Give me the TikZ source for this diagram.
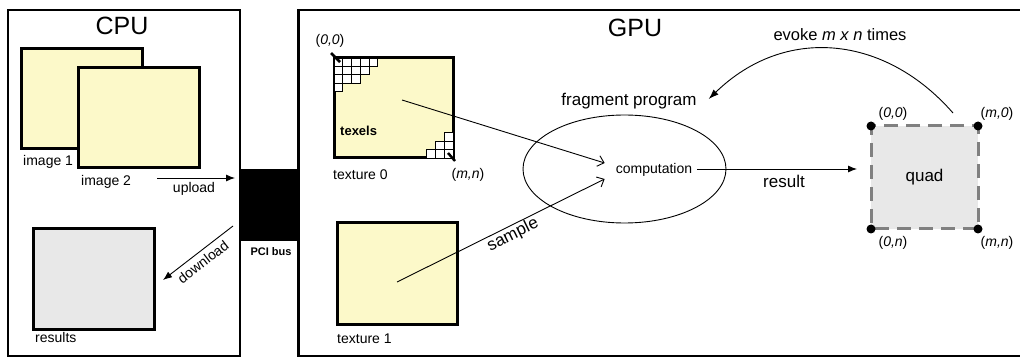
\documentclass[tikz,border=0pt]{standalone}
\usepackage{fontspec}
\setmainfont{Liberation Sans}
\usetikzlibrary{arrows.meta,shapes.geometric,calc}
\definecolor{paper}{RGB}{252,249,201}
\definecolor{quadfill}{RGB}{232,232,232}
\definecolor{dashgray}{RGB}{128,128,128}
\begin{document}
\begin{tikzpicture}[x=1pt,y=-1pt,
  panel/.style={draw, line width=2.5pt, inner sep=0pt, outer sep=0pt},
  imgbox/.style={draw, line width=3pt, fill=paper, inner sep=0pt, outer sep=0pt},
  resbox/.style={draw, line width=3pt, fill=quadfill, inner sep=0pt, outer sep=0pt},
  title/.style={font=\fontsize{25}{28}\selectfont, inner sep=0pt},
  lbl/.style={font=\fontsize{14}{16}\selectfont, inner sep=0pt},
  biglbl/.style={font=\fontsize{17}{19}\selectfont, inner sep=0pt},
  smallbold/.style={font=\bfseries\fontsize{11}{13}\selectfont, inner sep=0pt},
  thinline/.style={line width=0.9pt},
  filledtip/.style={thinline, -{Latex[length=9pt,width=7pt]}},
  opentip/.style={thinline, -{Straight Barb[length=6pt,width=11pt]}},
  texel/.style={draw, fill=white, line width=0.6pt},
  cornertick/.style={line width=2.5pt}
]
\useasboundingbox (0,0) rectangle (1020,358);

% ---------------- CPU side ----------------
\node[panel, minimum width=232pt, minimum height=346pt] (cpu) at (124,183) {};
\node[title] (cpulbl) at (122,26) {CPU};

\node[imgbox, minimum width=121pt, minimum height=100pt] (img1) at (81.5,99) {};
\node[imgbox, minimum width=121pt, minimum height=100pt] (img2) at (138.5,118) {};
\node[lbl, anchor=west] (img1lbl) at (23,162) {image 1};
\node[lbl, anchor=west] (img2lbl) at (81,182) {image 2};

\node[resbox, minimum width=121pt, minimum height=100pt] (results) at (93.5,279) {};
\node[lbl, anchor=west] (reslbl) at (35,337) {results};

% ---------------- PCI bus ----------------
\node[fill=black, inner sep=0pt, minimum width=58.5pt, minimum height=72pt] (pci) at (269.25,205) {};
\node[smallbold] (pcilbl) at (271,252) {PCI bus};

\coordinate (upA) at (157,178);
\coordinate (upB) at (235,178);
\draw[filledtip] (upA) -- (upB);
\node[lbl] (uplbl) at (194,189) {upload};

\coordinate (dlA) at (233,226);
\coordinate (dlB) at ($(results.east)+(9,1)$);
\draw[filledtip] (dlA) -- (dlB);
\node[lbl, rotate=37.6] (dllbl) at (203,262) {download};

% ---------------- GPU side ----------------
\node[panel, minimum width=724.5pt, minimum height=346pt] (gpu) at (660.75,183) {};
\node[title] (gpulbl) at (635,28) {GPU};

% texture 0 with its texel staircases
\node[imgbox, minimum width=119pt, minimum height=100pt] (tex0) at (393.5,108) {};
\foreach \r/\n in {0/5,1/4,2/3,3/1}{
  \foreach \c in {1,...,\n}{
    \draw[texel] ($(tex0.north west)+({(\c-1)*8.7},{\r*8.4})$) rectangle ++(8.7,8.4);
  }
}
\foreach \r/\n in {0/3,1/2,2/1}{
  \foreach \c in {1,...,\n}{
    \draw[texel] ($(tex0.south east)+({-\c*8.8},{-(\r+1)*8.4})$) rectangle ++(8.8,8.4);
  }
}
\draw[cornertick] ($(tex0.north west)+(-3,-5)$) -- ($(tex0.north west)+(6,4)$);
\draw[cornertick] ($(tex0.south east)+(-5,-5)$) -- ($(tex0.south east)+(2,3)$);
\node[lbl] (t0a) at (330,41) {(\textit{0,0})};
\node[lbl] (t0b) at (468,175) {(\textit{m,n})};
\node[font=\bfseries\fontsize{13}{15}\selectfont, inner sep=0pt, anchor=west] (texels) at (340,131) {texels};
\node[lbl, anchor=west] (tex0lbl) at (333,175) {texture 0};

% texture 1
\node[imgbox, minimum width=120pt, minimum height=101pt] (tex1) at (397,273.5) {};
\node[lbl, anchor=west] (tex1lbl) at (337,339) {texture 1};

% fragment program
\node[draw, thinline, ellipse, minimum width=203pt, minimum height=108pt, inner sep=0pt] (fragprog) at (624.5,169) {};
\node[biglbl] (frag) at (629,101) {fragment program};
\node[lbl] (comp) at (654,170) {computation};

\draw[opentip] ($(tex0.center)+(8.5,-8)$) -- ($(comp.west)+(-11,-7)$);
\draw[opentip] ($(tex1.center)+(0,8.5)$) -- ($(comp.west)+(-11,9)$);
\node[biglbl, rotate=26.3] (samplelbl) at (513,235) {sample};

% quad with its four corner vertices
\node[draw=dashgray, fill=quadfill, line width=3pt, dash pattern=on 14pt off 8pt, dash phase=-4pt,
      minimum width=107pt, minimum height=103pt, inner sep=0pt, outer sep=0pt,
      font=\fontsize{17}{19}\selectfont] (quad) at (924.5,177.5) {quad};
\foreach \a in {north west,north east,south west,south east}{
  \fill[black] (quad.\a) circle[radius=4.5pt];
}
\node[lbl] (qal) at (893,114) {(\textit{0,0})};
\node[lbl] (qbl) at (997,114) {(\textit{m,0})};
\node[lbl] (qcl) at (893,243) {(\textit{0,n})};
\node[lbl] (qdl) at (997,243) {(\textit{m,n})};

\draw[filledtip] ($(comp.east)+(4.5,-1)$) -- ($(comp.east -| quad.west)+(-14,-1)$);
\node[biglbl] (reslbl2) at (784,181) {result};

% evoke loop
\coordinate (evA) at ($(quad.north)+(28.5,-13)$);
\coordinate (evB) at ($(frag.east)+(12,-2)$);
\draw[thinline, -{Latex[length=10pt,width=7pt]}] (evA) .. controls (885,35) and (785,25) .. (evB);
\node[font=\fontsize{16.5}{18}\selectfont, inner sep=0pt] (evoke) at (840,35) {evoke \textit{m x n} times};
\end{tikzpicture}
\end{document}
